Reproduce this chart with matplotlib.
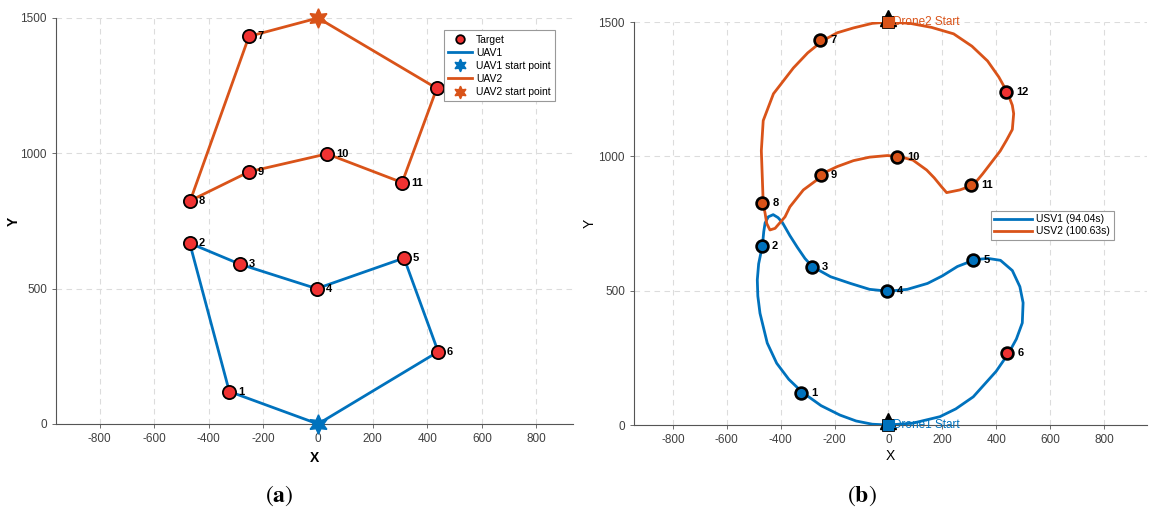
import matplotlib.pyplot as plt

# --- target positions ---
target_ids = ['1', '2', '3', '4', '5', '6', '7', '8', '9', '10', '11', '12']
target_x = [-325, -470, -285, -5, 315, 440, -253, -468, -252, 33, 308, 435]
target_y = [120, 668, 590, 500, 613, 267, 1432, 825, 932, 998, 892, 1240]

# visiting order for each UAV (panel a), start/end at depot
uav1_order = ['1', '2', '3', '4', '5', '6']
uav2_order = ['12', '11', '10', '9', '8', '7']
uav1_start = (0, 0)
uav2_start = (0, 1500)

# smooth USV trajectories
usv1_x = [0, -60, -120, -180, -250, -320, -370, -415, -450, -477, -485, -487,
          -482, -468, -463, -458, -446, -428, -410, -394, -366, -338, -310,
          -283, -215, -141, -70, 0, 70, 145, 200, 256, 323, 370, 416, 460,
          488, 500, 497, 475, 446, 400, 315, 250, 191, 91, 0]
usv1_y = [0, 3, 15, 37, 72, 122, 170, 230, 305, 416, 480, 540,
          600, 668, 720, 752, 775, 783, 772, 754, 705, 661, 620,
          590, 552, 527, 505, 498, 505, 527, 555, 590, 616, 620, 613, 575,
          515, 455, 380, 320, 267, 200, 105, 60, 31, 7, 0]

usv2_x = [0, 80, 160, 242, 310, 368, 410, 442, 460, 465, 460, 439, 415, 389,
          350, 315, 265, 216, 197, 170, 142, 91, 41, -4, -70, -130, -190,
          -245, -266, -316, -366, -384, -421, -440, -452, -458, -465, -468,
          -472, -465, -427, -353, -300, -245, -190, -130, -60, 0]
usv2_y = [1500, 1495, 1480, 1456, 1410, 1355, 1295, 1237, 1190, 1159, 1100,
          1061, 1020, 986, 935, 893, 875, 865, 887, 920, 949, 986, 999, 1003,
          997, 984, 962, 936, 912, 875, 812, 775, 732, 726, 750, 788, 824,
          910, 1021, 1133, 1233, 1329, 1385, 1430, 1460, 1478, 1495, 1500]

usv1_label = 'USV1 (94.04s)'
usv2_label = 'USV2 (100.63s)'

BLUE = '#0072BD'
ORANGE = '#D95319'
RED = '#F03232'
GRID = '#dcdcdc'
TICK = '#404040'

plt.rcParams['font.family'] = ['Liberation Sans', 'DejaVu Sans']
plt.rcParams['mathtext.fontset'] = 'stix'
plt.rcParams['axes.unicode_minus'] = False

fig = plt.figure(figsize=(11.56, 5.18), dpi=100)
ax_a = fig.add_axes([0.0484, 0.1815, 0.4473, 0.7838])
ax_b = fig.add_axes([0.5484, 0.1795, 0.4438, 0.7780])

pos = {k: (x, y) for k, x, y in zip(target_ids, target_x, target_y)}


def style_axes(ax, xlim):
    ax.set_xlim(*xlim)
    ax.set_ylim(0, 1500)
    ax.set_xticks(range(-800, 801, 200))
    ax.set_yticks([0, 500, 1000, 1500])
    ax.grid(True, color=GRID, linestyle=(0, (5, 4)), linewidth=0.8)
    ax.set_axisbelow(True)
    for s in ['top', 'right']:
        ax.spines[s].set_visible(False)
    for s in ['left', 'bottom']:
        ax.spines[s].set_color('#555555')
        ax.spines[s].set_linewidth(0.8)
    ax.tick_params(colors='#555555', labelcolor=TICK, labelsize=8.5,
                   length=3, width=0.6)


# --- panel (a): straight-line routes ---
style_axes(ax_a, (-960, 934))
r1 = [uav1_start] + [pos[k] for k in uav1_order] + [uav1_start]
r2 = [uav2_start] + [pos[k] for k in uav2_order] + [uav2_start]

ax_a.plot(target_x, target_y, 'o', ms=9.5, mfc=RED, mec='black', mew=1.3,
          ls='none', label='Target', zorder=4)
ax_a.plot([p[0] for p in r1], [p[1] for p in r1], color=BLUE, lw=2,
          label='UAV1', zorder=3)
ax_a.plot(*uav1_start, marker=(6, 1, 0), ms=14, color=BLUE, ls='none',
          label='UAV1 start point', zorder=5, clip_on=False)
ax_a.plot([p[0] for p in r2], [p[1] for p in r2], color=ORANGE, lw=2,
          label='UAV2', zorder=3)
ax_a.plot(*uav2_start, marker=(6, 1, 0), ms=14, color=ORANGE, ls='none',
          label='UAV2 start point', zorder=5, clip_on=False)
for k, x, y in zip(target_ids, target_x, target_y):
    ax_a.text(x + 32, y, k, fontsize=8, fontweight='bold', va='center',
              ha='left', zorder=6)
ax_a.set_xlabel('X', fontsize=10, fontweight='bold', labelpad=4)
ax_a.set_ylabel('Y', fontsize=10, fontweight='bold', labelpad=0)
leg = ax_a.legend(loc='upper right', bbox_to_anchor=(0.975, 0.982),
                  fontsize=7.5, frameon=True, fancybox=False,
                  edgecolor='#999999', handlelength=2.3, borderpad=0.4,
                  labelspacing=0.3, handletextpad=0.4, markerscale=0.65,
                  framealpha=1)
leg.get_frame().set_linewidth(0.8)
leg.set_zorder(10)

# --- panel (b): smooth trajectories ---
style_axes(ax_b, (-945, 960))
ax_b.plot(usv1_x, usv1_y, color=BLUE, lw=2, label=usv1_label, zorder=3)
ax_b.plot(usv2_x, usv2_y, color=ORANGE, lw=2, label=usv2_label, zorder=3)
for k, x, y in zip(target_ids, target_x, target_y):
    if k in ('6', '12'):
        fc = RED
    elif k in uav1_order:
        fc = BLUE
    else:
        fc = ORANGE
    ax_b.plot(x, y, 'o', ms=8.5, mfc=fc, mec='black', mew=1.9, zorder=4)
    ax_b.text(x + 38, y, k, fontsize=8, fontweight='bold', va='center',
              ha='left', zorder=6)
for (sx, sy), col, name in [(uav1_start, BLUE, 'Drone1 Start'),
                            (uav2_start, ORANGE, 'Drone2 Start')]:
    ax_b.plot(sx, sy + 14, '^', ms=11, color='black', zorder=5, clip_on=False)
    ax_b.plot(sx, sy, 's', ms=8, mfc=col, mec='black', mew=0.6, zorder=6,
              clip_on=False)
    ax_b.text(sx + 18, sy, name, color=col, fontsize=8.5, va='center',
              ha='left', zorder=6)
ax_b.set_xlabel('X', fontsize=10, labelpad=2)
ax_b.set_ylabel('Y', fontsize=10, labelpad=1)
leg_b = ax_b.legend(loc='upper right', bbox_to_anchor=(0.945, 0.545),
                    fontsize=7.5, frameon=True, fancybox=False,
                    edgecolor='#999999', handlelength=3.6, borderpad=0.35,
                    labelspacing=0.2, handletextpad=0.4, framealpha=1)
leg_b.get_frame().set_linewidth(0.8)

# subcaptions
fig.text(0.2415, 0.032, r'$(\mathbf{a})$', fontsize=17, ha='center')
fig.text(0.7455, 0.032, r'$(\mathbf{b})$', fontsize=17, ha='center')

fig.savefig('out.png', dpi=100)
